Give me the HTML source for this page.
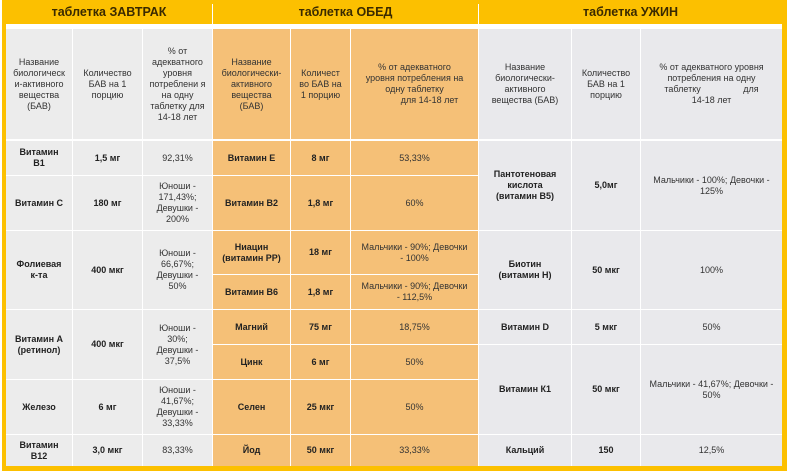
<!DOCTYPE html>
<html><head><meta charset="utf-8"><style>
body{margin:0;width:788px;height:473px;background:#fff;position:relative;overflow:hidden;font-family:"Liberation Sans",Arial,sans-serif;}
.frame{position:absolute;left:2px;top:0;width:785px;height:471px;background:#fcc000;}
.bar{position:absolute;top:0;height:24px;line-height:25px;text-align:center;font-size:12.5px;font-weight:bold;color:#3a2a00;}
.c{position:absolute;display:flex;align-items:center;justify-content:center;text-align:center;font-size:9px;line-height:11px;color:#333;box-sizing:border-box;padding:0 7px;}
.g{background:#ececec}.o{background:#f5c077}.b{background:#e9e9ec}
.k{font-weight:bold;color:#222}
.w{padding:0 12px}.x{padding:0 10px}
</style></head><body>
<div class="frame"></div>
<div style="position:absolute;left:6px;top:24px;width:776px;height:442px;background:#fff"></div>
<div class="bar" style="left:6px;width:206px">таблетка ЗАВТРАК</div>
<div style="position:absolute;left:212px;top:4px;width:1px;height:20px;background:#fff"></div>
<div class="bar" style="left:213px;width:265px">таблетка ОБЕД</div>
<div style="position:absolute;left:478px;top:4px;width:1px;height:20px;background:#fff"></div>
<div class="bar" style="left:479px;width:303px">таблетка УЖИН</div>

<div class="c g" style="left:6px;top:29px;width:66px;height:110px;padding:0 4px">Название биологическ и-активного вещества (БАВ)</div>
<div class="c g" style="left:73px;top:29px;width:69px;height:110px">Количество БАВ на 1 порцию</div>
<div class="c g" style="left:143px;top:29px;width:69px;height:110px;padding:0 5px">% от адекватного уровня потреблени я на одну таблетку для 14-18 лет</div>
<div class="c o" style="left:213px;top:29px;width:77px;height:110px">Название биологически-активного вещества (БАВ)</div>
<div class="c o" style="left:291px;top:29px;width:59px;height:110px;padding:0 5px">Количест во БАВ на 1 порцию</div>
<div class="c o w" style="left:351px;top:29px;width:127px;height:110px">% от адекватного уровня потребления на одну таблетку &nbsp;&nbsp;&nbsp;&nbsp;&nbsp;&nbsp;&nbsp;&nbsp;&nbsp;&nbsp;&nbsp;&nbsp;для 14-18 лет</div>
<div class="c b" style="left:479px;top:29px;width:92px;height:110px;padding:0 12px">Название биологически-активного вещества (БАВ)</div>
<div class="c b x" style="left:572px;top:29px;width:68px;height:110px">Количество БАВ на 1 порцию</div>
<div class="c b" style="left:641px;top:29px;width:141px;height:110px;padding:0 16px">% от адекватного уровня потребления на одну таблетку &nbsp;&nbsp;&nbsp;&nbsp;&nbsp;&nbsp;&nbsp;&nbsp;&nbsp;&nbsp;&nbsp;&nbsp;&nbsp;&nbsp;&nbsp;&nbsp;для 14-18 лет</div>

<div class="c g k" style="left:6px;top:141px;width:66px;height:34px;padding:0 10px">Витамин В1</div>
<div class="c g k" style="left:73px;top:141px;width:69px;height:34px">1,5 мг</div>
<div class="c g" style="left:143px;top:141px;width:69px;height:34px">92,31%</div>
<div class="c g k" style="left:6px;top:176px;width:66px;height:54px">Витамин С</div>
<div class="c g k" style="left:73px;top:176px;width:69px;height:54px">180 мг</div>
<div class="c g" style="left:143px;top:176px;width:69px;height:54px;padding:0 10px">Юноши - 171,43%; Девушки - 200%</div>
<div class="c g k" style="left:6px;top:231px;width:66px;height:78px;padding:0 10px">Фолиевая к-та</div>
<div class="c g k" style="left:73px;top:231px;width:69px;height:78px">400 мкг</div>
<div class="c g" style="left:143px;top:231px;width:69px;height:78px;padding:0 10px">Юноши - 66,67%; Девушки - 50%</div>
<div class="c g k" style="left:6px;top:310px;width:66px;height:69px">Витамин А (ретинол)</div>
<div class="c g k" style="left:73px;top:310px;width:69px;height:69px">400 мкг</div>
<div class="c g" style="left:143px;top:310px;width:69px;height:69px;padding:0 10px">Юноши - 30%; Девушки - 37,5%</div>
<div class="c g k" style="left:6px;top:380px;width:66px;height:54px">Железо</div>
<div class="c g k" style="left:73px;top:380px;width:69px;height:54px">6 мг</div>
<div class="c g" style="left:143px;top:380px;width:69px;height:54px;padding:0 10px">Юноши - 41,67%; Девушки - 33,33%</div>
<div class="c g k" style="left:6px;top:435px;width:66px;height:31px;padding:0 10px">Витамин В12</div>
<div class="c g k" style="left:73px;top:435px;width:69px;height:31px">3,0 мкг</div>
<div class="c g" style="left:143px;top:435px;width:69px;height:31px">83,33%</div>

<div class="c o k" style="left:213px;top:141px;width:77px;height:34px">Витамин Е</div>
<div class="c o k" style="left:291px;top:141px;width:59px;height:34px">8 мг</div>
<div class="c o" style="left:351px;top:141px;width:127px;height:34px">53,33%</div>
<div class="c o k" style="left:213px;top:176px;width:77px;height:54px">Витамин В2</div>
<div class="c o k" style="left:291px;top:176px;width:59px;height:54px">1,8 мг</div>
<div class="c o" style="left:351px;top:176px;width:127px;height:54px">60%</div>
<div class="c o k" style="left:213px;top:231px;width:77px;height:43px;padding:0 3px">Ниацин (витамин РР)</div>
<div class="c o k" style="left:291px;top:231px;width:59px;height:43px">18 мг</div>
<div class="c o" style="left:351px;top:231px;width:127px;height:43px;padding:0 8px">Мальчики - 90%; Девочки - 100%</div>
<div class="c o k" style="left:213px;top:275px;width:77px;height:34px">Витамин В6</div>
<div class="c o k" style="left:291px;top:275px;width:59px;height:34px">1,8 мг</div>
<div class="c o" style="left:351px;top:275px;width:127px;height:34px;padding:0 8px">Мальчики - 90%; Девочки - 112,5%</div>
<div class="c o k" style="left:213px;top:310px;width:77px;height:34px">Магний</div>
<div class="c o k" style="left:291px;top:310px;width:59px;height:34px">75 мг</div>
<div class="c o" style="left:351px;top:310px;width:127px;height:34px">18,75%</div>
<div class="c o k" style="left:213px;top:345px;width:77px;height:34px">Цинк</div>
<div class="c o k" style="left:291px;top:345px;width:59px;height:34px">6 мг</div>
<div class="c o" style="left:351px;top:345px;width:127px;height:34px">50%</div>
<div class="c o k" style="left:213px;top:380px;width:77px;height:54px">Селен</div>
<div class="c o k" style="left:291px;top:380px;width:59px;height:54px">25 мкг</div>
<div class="c o" style="left:351px;top:380px;width:127px;height:54px">50%</div>
<div class="c o k" style="left:213px;top:435px;width:77px;height:31px">Йод</div>
<div class="c o k" style="left:291px;top:435px;width:59px;height:31px">50 мкг</div>
<div class="c o" style="left:351px;top:435px;width:127px;height:31px">33,33%</div>

<div class="c b k" style="left:479px;top:141px;width:92px;height:89px;padding:0 14px">Пантотеновая кислота (витамин В5)</div>
<div class="c b k" style="left:572px;top:141px;width:68px;height:89px">5,0мг</div>
<div class="c b" style="left:641px;top:141px;width:141px;height:89px;padding:0 10px">Мальчики - 100%; Девочки - 125%</div>
<div class="c b k" style="left:479px;top:231px;width:92px;height:78px;padding:0 14px">Биотин (витамин Н)</div>
<div class="c b k" style="left:572px;top:231px;width:68px;height:78px">50 мкг</div>
<div class="c b" style="left:641px;top:231px;width:141px;height:78px">100%</div>
<div class="c b k" style="left:479px;top:310px;width:92px;height:34px">Витамин D</div>
<div class="c b k" style="left:572px;top:310px;width:68px;height:34px">5 мкг</div>
<div class="c b" style="left:641px;top:310px;width:141px;height:34px">50%</div>
<div class="c b k" style="left:479px;top:345px;width:92px;height:89px">Витамин К1</div>
<div class="c b k" style="left:572px;top:345px;width:68px;height:89px">50 мкг</div>
<div class="c b" style="left:641px;top:345px;width:141px;height:89px;padding:0 4px">Мальчики - 41,67%; Девочки - 50%</div>
<div class="c b k" style="left:479px;top:435px;width:92px;height:31px">Кальций</div>
<div class="c b k" style="left:572px;top:435px;width:68px;height:31px">150</div>
<div class="c b" style="left:641px;top:435px;width:141px;height:31px">12,5%</div>
</body></html>
